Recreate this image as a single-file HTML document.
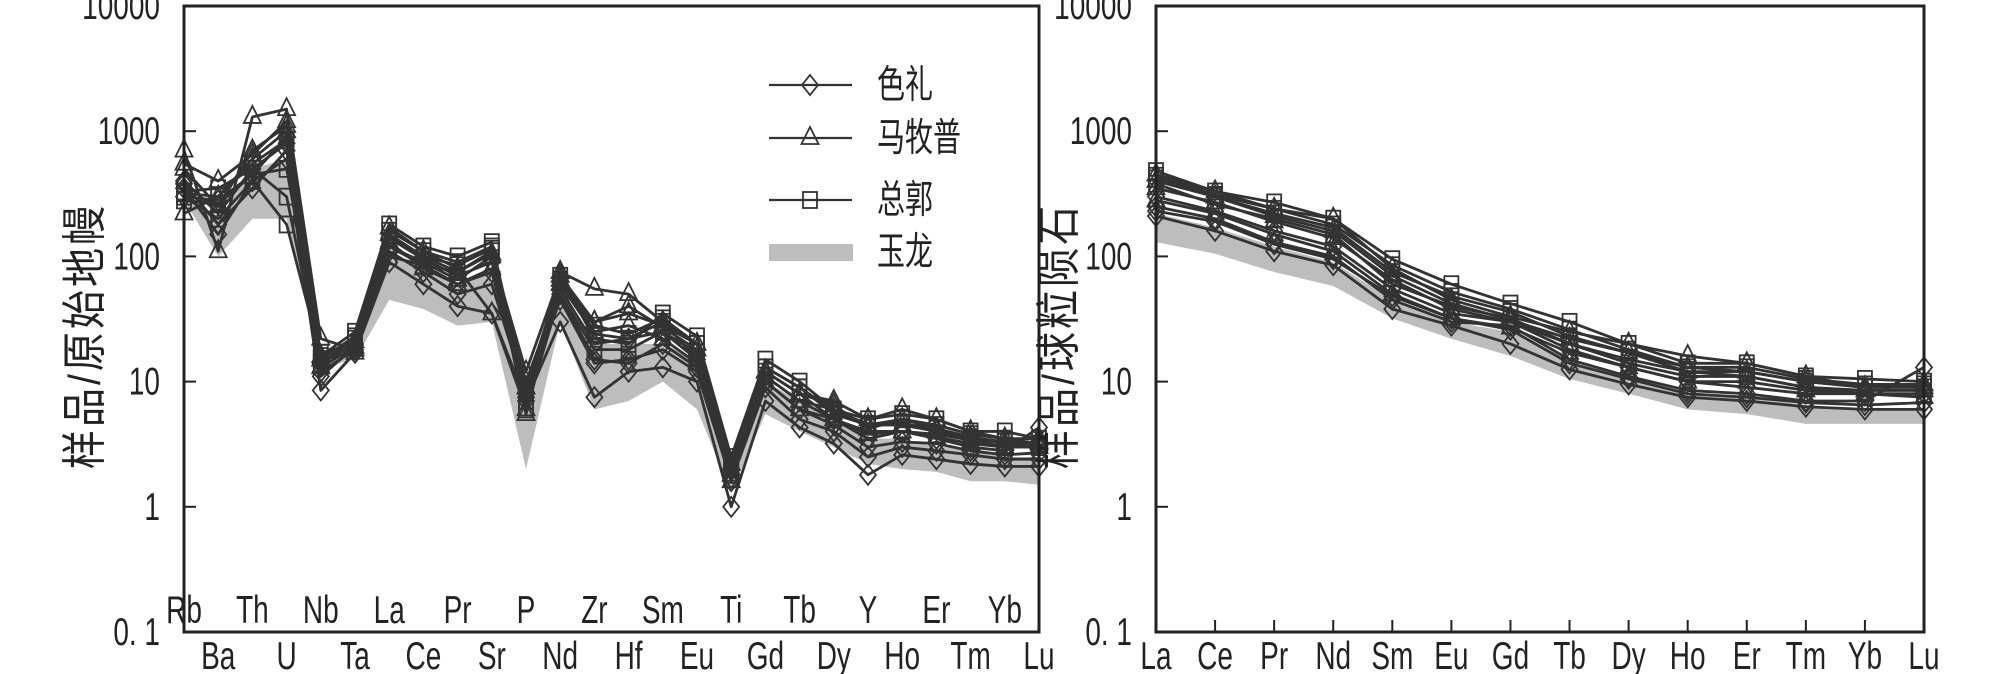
<!DOCTYPE html>
<html><head><meta charset="utf-8"><style>
html,body{margin:0;padding:0;background:#fff;width:2008px;height:674px;overflow:hidden}
svg{display:block}
text{font-family:"Liberation Sans","Noto Sans CJK SC",sans-serif;fill:#222}
</style></head><body>
<svg id="chart" width="2008" height="674" viewBox="0 0 2008 674" xmlns="http://www.w3.org/2000/svg"></svg>
<script>
// ---------- data: spider diagram (primitive mantle normalized) ----------
const spiderElements = ["Rb","Ba","Th","U","Nb","Ta","La","Ce","Pr","Sr","P","Nd","Zr","Hf","Sm","Eu","Ti","Gd","Tb","Dy","Y","Ho","Er","Tm","Yb","Lu"];
const spiderSeli = [
 [350,150,400,600,8.5,17,90,60,40,35,7,30,7.5,12,13,10,1,7,4.3,3.2,1.8,2.6,2.4,2.2,2.1,2.1],
 [400,220,500,800,12,18,110,75,50,60,8,45,14,15,18,12,1.6,9,5,4,2.5,3,2.8,2.6,2.4,2.4],
 [300,280,450,900,14,20,140,95,70,90,10,55,20,22,25,15,2,11,7,5,3.5,4,3.5,3.0,2.8,4.3],
 [380,180,350,700,11,19,120,85,60,75,7.5,50,15,14,20,13,1.7,10,6,4.5,3,3.3,3.2,2.8,2.6,2.7]
];
const spiderMamupu = [
 [700,110,1300,1500,22,18,170,110,80,35,6,75,55,50,30,15,1.8,12,8,7,5,6,5,4,3.5,3.5],
 [500,250,700,1100,15,17,120,90,65,100,5.5,60,30,35,28,20,2.2,11,7,6,4.5,4.5,4,3.5,3,3],
 [220,300,600,1000,13,19,130,80,60,80,9,65,25,28,22,14,1.6,10,6,5,3.8,4,3.6,3.2,3.0,3.2],
 [550,400,650,1200,16,21,150,100,75,105,12,70,30,40,27,18,2.0,12,8,6.5,4.2,5,4.2,3.6,3.2,3.3]
];
const spiderZongguo = [
 [300,200,400,180,16,25,180,120,100,130,8,70,22,20,35,23,2.5,15,10,6,5,5.5,5,4,4,3.5],
 [330,350,500,300,14,22,160,110,90,120,7,65,28,24,32,20,2,13,9,5.5,4.5,5,4.5,3.8,3.5,3.2],
 [280,260,450,500,17,20,100,85,75,110,6,50,18,18,25,17,1.8,12,8,5,4,4,3.8,3.4,3.0,3.0],
 [320,300,550,850,15,23,140,100,85,115,9,60,24,22,30,20,2.2,13,9,5.8,4.6,4.6,4.2,3.6,3.3,3.1]
];
const spiderYulongLow  = [280,100,200,200,13,15,45,38,28,30,2,30,6,7,10,6,1.3,5.5,4,3,2.2,2,1.9,1.6,1.6,1.5];
const spiderYulongHigh = [350,200,500,600,15,20,100,80,60,80,10,50,20,20,20,15,2,10,7,5,3.5,3.5,3,3,2.5,2.5];

// ---------- data: REE (chondrite normalized) ----------
const reeElements = ["La","Ce","Pr","Nd","Sm","Eu","Gd","Tb","Dy","Ho","Er","Tm","Yb","Lu"];
const reeSeli = [
 [210,160,110,85,38,28,20,12.5,9.5,7.5,7,6.3,6,6],
 [250,200,130,100,45,30,28,15,11,8.5,8,7,7,13],
 [300,230,160,120,55,35,30,18,13,10,9,8,8,8],
 [230,190,125,95,48,32,26,14,10.5,8,7.5,6.8,6.5,6.8]
];
const reeMamupu = [
 [450,330,240,200,80,45,33,25,20,16,14,11,9,9],
 [350,270,190,140,65,38,30,20,15,12,11,9,8.5,8.5],
 [280,220,150,110,50,32,27,17,13,10,10,8.5,8,7.5],
 [400,300,210,160,70,42,31,22,17,13,12,10,9,9.5]
];
const reeZongguo = [
 [480,330,270,200,95,60,42,30,20,14,14,11,10.5,10],
 [420,300,220,170,75,48,36,23,17,12,12,10,9,9],
 [380,260,200,150,60,40,32,20,14,11,11,9,8,8],
 [440,310,240,180,85,52,38,26,18,13,13,10.5,9.5,9.5]
];
const reeYulongLow  = [130,105,75,58,32,22,16,10.5,8,6,5.5,4.6,4.6,4.6];
const reeYulongHigh = [220,170,120,90,45,30,25,15,11,8,7.5,6.5,6,6];

const yTickValues = [0.1,1,10,100,1000,10000];
const yTickLabels = ["0. 1","1","10","100","1000","10000"];

const NS="http://www.w3.org/2000/svg";
const svg=document.getElementById("chart");
function mk(tag,attrs,parent){const e=document.createElementNS(NS,tag);for(const k in attrs)e.setAttribute(k,attrs[k]);(parent||svg).appendChild(e);return e;}
const SY=1.4;
function txt(parent,x,y,s,size,anchor){
  const t=mk("text",{x:0,y:0,"text-anchor":anchor||"start","font-size":size,transform:`translate(${x} ${y}) scale(1 ${SY})`},parent);
  t.textContent=s;return t;
}

const TOP=6,BOT=632;
function yScale(v){return BOT-(Math.log10(v)+1)*(BOT-TOP)/5;}

function marker(kind,x,y,g){
  let e;
  if(kind==="diamond"){e=mk("polygon",{points:`${x},${y-10} ${x+8},${y} ${x},${y+10} ${x-8},${y}`,fill:"none",stroke:"#333","stroke-width":1.8},g);}
  else if(kind==="triangle"){e=mk("polygon",{points:`${x},${y-11} ${x+8.5},${y+6} ${x-8.5},${y+6}`,fill:"none",stroke:"#333","stroke-width":1.8},g);}
  else {e=mk("rect",{x:x-7,y:y-8,width:14,height:16,fill:"none",stroke:"#333","stroke-width":1.8},g);}
  return e;
}

function drawPanel(opt){
  const {x0,x1,elements,groups,low,high,title,name,ticksInside,titleX}=opt;
  const xs=i=>x0+i*(x1-x0)/(elements.length-1);
  const g=mk("g",{});
  
  
  let pts=low.map((v,i)=>`${xs(i)},${yScale(v)}`);
  pts=pts.concat(high.map((v,i)=>`${xs(i)},${yScale(v)}`).reverse());
  const band=mk("polygon",{points:pts.join(" "),fill:"#bdbdbd",stroke:"none"},g);
  
  
  groups.forEach(gr=>{
    gr.data.forEach((series,si)=>{
      const sg=mk("g",{},g);
      
      
      mk("polyline",{points:series.map((v,i)=>`${xs(i)},${yScale(v)}`).join(" "),fill:"none",stroke:"#333","stroke-width":2.8,"stroke-linejoin":"round"},sg);
      series.forEach((v,i)=>marker(gr.kind,xs(i),yScale(v),sg));
    });
  });
  const fr=mk("rect",{x:x0,y:TOP,width:x1-x0,height:BOT-TOP,fill:"none",stroke:"#222","stroke-width":3},g);
  
  
  yTickValues.forEach((v,i)=>{
    const y=yScale(v);
    mk("line",{x1:x0,x2:x0+12,y1:y,y2:y,stroke:"#222","stroke-width":2},g);
    const t=txt(g,x0-24,y+13,yTickLabels[i],28,"end");
    
    
  });
  elements.forEach((el,i)=>{
    const x=xs(i);
    let y;
    if(ticksInside){ y=BOT+37; mk("line",{x1:x,x2:x,y1:BOT,y2:BOT-12,stroke:"#222","stroke-width":2},g); }
    else { y = (i%2===0)? BOT-9 : BOT+37; }
    const t=txt(g,x,y,el,28,"middle");
    
    
  });
  const cx=titleX, cy=336;
  const tt=mk("text",{x:0,y:0,"text-anchor":"middle","font-size":40,transform:`translate(${cx} ${cy}) rotate(-90) scale(0.98 1.12)`,"letter-spacing":"3"},g);
  tt.textContent=title;
  
  
}

drawPanel({x0:184,x1:1039,elements:spiderElements,
  groups:[{name:"seli",kind:"diamond",data:spiderSeli},{name:"mamupu",kind:"triangle",data:spiderMamupu},{name:"zongguo",kind:"square",data:spiderZongguo}],
  low:spiderYulongLow,high:spiderYulongHigh,title:"样品/原始地幔",name:"spider-diagram-panel",ticksInside:false,titleX:100});
drawPanel({x0:1156,x1:1924,elements:reeElements,
  groups:[{name:"seli",kind:"diamond",data:reeSeli},{name:"mamupu",kind:"triangle",data:reeMamupu},{name:"zongguo",kind:"square",data:reeZongguo}],
  low:reeYulongLow,high:reeYulongHigh,title:"样品/球粒陨石",name:"ree-diagram-panel",ticksInside:true,titleX:1074});

const lg=mk("g",{});


const legendItems=[["diamond","色礼",85],["triangle","马牧普",138],["square","总郭",200]];
legendItems.forEach(([k,lab,y])=>{
  const e=mk("g",{},lg);
  
  
  mk("line",{x1:769,x2:852,y1:y,y2:y,stroke:"#333","stroke-width":2.2},e);
  marker(k,810,y,e);
  txt(e,877,y+13,lab,28,"start");
});
const ye=mk("g",{},lg);


mk("rect",{x:769,y:244,width:84,height:17,fill:"#bdbdbd"},ye);
txt(ye,877,265,"玉龙",28,"start");
</script>
</body></html>
